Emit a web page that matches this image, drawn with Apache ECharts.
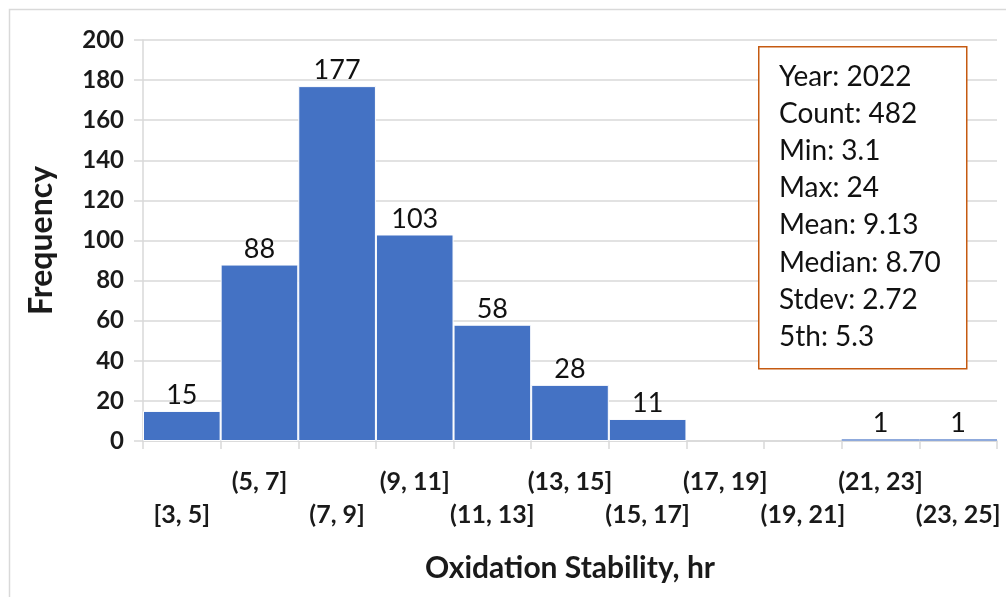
<!DOCTYPE html>
<html><head><meta charset="utf-8">
<script src="https://cdn.jsdelivr.net/npm/echarts@6/dist/echarts.min.js"></script>
<style>html,body{margin:0;padding:0;background:#fff}#c{width:1006px;height:597px}</style>
</head><body><div id="c"></div>
<script>
const categories = ['[3, 5]','(5, 7]','(7, 9]','(9, 11]','(11, 13]','(13, 15]','(15, 17]','(17, 19]','(19, 21]','(21, 23]','(23, 25]'];
const frequency = [15, 88, 177, 103, 58, 28, 11, 0, 0, 1, 1];
const statLines = ['Year: 2022','Count: 482','Min: 3.1','Max: 24','Mean: 9.13','Median: 8.70','Stdev: 2.72','5th: 5.3'];
const yTicks = {min: 0, max: 200, interval: 20};

const chart = echarts.init(document.getElementById('c'), null, {renderer: 'canvas'});
const font = 'Lato, "Open Sans", sans-serif';

const statGraphics = statLines.map((s, i) => ({
  type: 'text', left: 779, top: 63 + i * 37.1,
  style: {text: s, font: '28px ' + font, fill: '#111'}, z: 11
}));

const barData = frequency.map(v => ({
  value: v,
  itemStyle: v < 5 ? {borderWidth: 0, color: '#8FAADC'} : undefined
}));

chart.setOption({
  animation: false,
  grid: {left: 143, right: 9, top: 40, bottom: 156},
  xAxis: {
    type: 'category', data: categories,
    axisLine: {lineStyle: {color: '#d9d9d9', width: 1.5}},
    axisTick: {show: true, length: 8, lineStyle: {color: '#d9d9d9', width: 1.5}},
    axisLabel: {
      interval: 0, margin: 24, fontFamily: font, fontWeight: 'bold', fontSize: 25,
      color: '#1a1a1a', lineHeight: 33,
      formatter: (v, i) => (i % 2 === 0 ? '\n' + v : v)
    },
    name: 'Oxidation Stability, hr', nameLocation: 'middle', nameGap: 112,
    nameTextStyle: {fontFamily: font, fontWeight: 'bold', fontSize: 30, color: '#1a1a1a'}
  },
  yAxis: {
    type: 'value', min: yTicks.min, max: yTicks.max, interval: yTicks.interval,
    axisLine: {show: true, lineStyle: {color: '#d9d9d9', width: 1.5}},
    axisTick: {show: true, length: 9, lineStyle: {color: '#d9d9d9', width: 1.5}},
    splitLine: {lineStyle: {color: '#d9d9d9', width: 1.5}},
    axisLabel: {margin: 19, fontFamily: font, fontWeight: 'bold', fontSize: 24, color: '#1a1a1a'},
    name: 'Frequency', nameLocation: 'middle', nameGap: 85,
    nameTextStyle: {fontFamily: font, fontWeight: 'bold', fontSize: 32, color: '#1a1a1a'}
  },
  series: [{
    type: 'bar', data: barData, barCategoryGap: 0,
    itemStyle: {color: '#4472C4', borderColor: '#ffffff', borderWidth: 1},
    label: {
      show: true, position: 'top', distance: 2, fontFamily: font, fontSize: 27, color: '#111',
      formatter: p => (p.value > 0 ? String(p.value) : '')
    }
  }],
  graphic: [
    {type: 'rect', left: 7, top: 7, shape: {width: 1100, height: 700},
     style: {fill: 'none', stroke: '#d9d9d9', lineWidth: 1.5}, z: -1, silent: true},
    {type: 'rect', left: 758, top: 46, shape: {width: 208, height: 322},
     style: {fill: '#fff', stroke: '#C55A11', lineWidth: 1.5}, z: 10},
    ...statGraphics
  ]
});
</script></body></html>
